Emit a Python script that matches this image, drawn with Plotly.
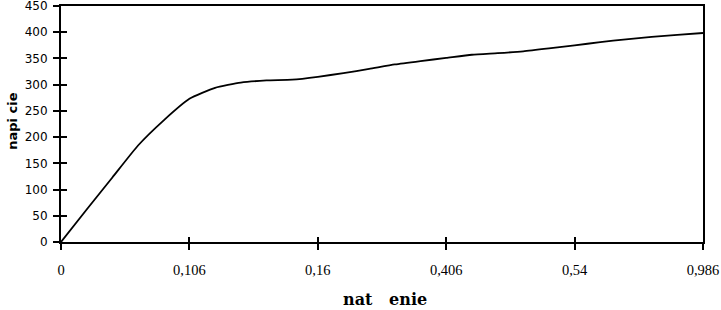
import plotly.graph_objects as go

# Category labels shown on the x axis (every 5th sample)
strain_labels = ["0", "0,106", "0,16", "0,406", "0,54", "0,986"]
label_step = 5

# Stress values (one sample per 1/5 of a labelled interval)
stress = [0, 62, 123, 184, 232, 273, 294, 304, 308, 309.5,
          315, 322, 330, 338.5, 345, 351, 357, 360, 363.5, 369,
          375, 381, 386.5, 391, 395, 398.5]
sample_idx = list(range(len(stress)))
tick_idx = sample_idx[::label_step]

y_ticks = list(range(0, 451, 50))

fig = go.Figure()
fig.add_trace(go.Scatter(
    x=sample_idx, y=stress, mode="lines",
    line=dict(color="black", width=1.8, shape="spline", smoothing=0.5),
    hoverinfo="skip", showlegend=False,
))
# invisible copy on the overlay axes so the inner tick marks are drawn
fig.add_trace(go.Scatter(
    x=sample_idx, y=stress, mode="lines", xaxis="x2", yaxis="y2",
    line=dict(color="rgba(0,0,0,0)", width=0),
    hoverinfo="skip", showlegend=False,
))

axis_common = dict(showgrid=False, zeroline=False, automargin=False)

fig.update_layout(
    width=721, height=310,
    margin=dict(l=61, r=18, t=6, b=68, autoexpand=False),
    paper_bgcolor="white", plot_bgcolor="white",
    showlegend=False,
    xaxis=dict(
        **axis_common,
        range=[0, len(stress) - 1],
        tickmode="array", tickvals=tick_idx, ticktext=strain_labels,
        ticks="outside", ticklen=6, tickwidth=2, tickcolor="black",
        showline=True, linecolor="black", linewidth=2, mirror=True,
        tickfont=dict(family="Liberation Serif", size=14.5, color="black"),
        ticklabelstandoff=8, ticklabeloverflow="allow",
    ),
    yaxis=dict(
        **axis_common,
        range=[0, 450],
        tickmode="array", tickvals=y_ticks,
        ticks="outside", ticklen=6, tickwidth=2, tickcolor="black",
        showline=True, linecolor="black", linewidth=2, mirror=True,
        tickfont=dict(family="DejaVu Sans", size=12, color="black"),
        ticklabelstandoff=3, ticklabeloverflow="allow",
    ),
    xaxis2=dict(
        **axis_common, overlaying="x", anchor="y2",
        range=[0, len(stress) - 1],
        tickmode="array", tickvals=tick_idx,
        ticks="inside", ticklen=5, tickwidth=2, tickcolor="black",
        showticklabels=False, showline=False,
    ),
    yaxis2=dict(
        **axis_common, overlaying="y", anchor="x2",
        range=[0, 450],
        tickmode="array", tickvals=y_ticks,
        ticks="inside", ticklen=6, tickwidth=2, tickcolor="black",
        showticklabels=False, showline=False,
    ),
    annotations=[
        dict(text="<b>nat\u00a0\u00a0\u00a0enie</b>", xref="paper", yref="paper",
             x=0.505, y=-0.245, xanchor="center", yanchor="middle",
             showarrow=False,
             font=dict(family="DejaVu Serif", size=16, color="black")),
        dict(text="<b>napi\u00a0cie</b>", xref="paper", yref="paper",
             x=-0.076, y=0.51, xanchor="center", yanchor="middle",
             textangle=-90, showarrow=False,
             font=dict(family="DejaVu Sans", size=13, color="black")),
    ],
)

fig.write_html("out.html")
